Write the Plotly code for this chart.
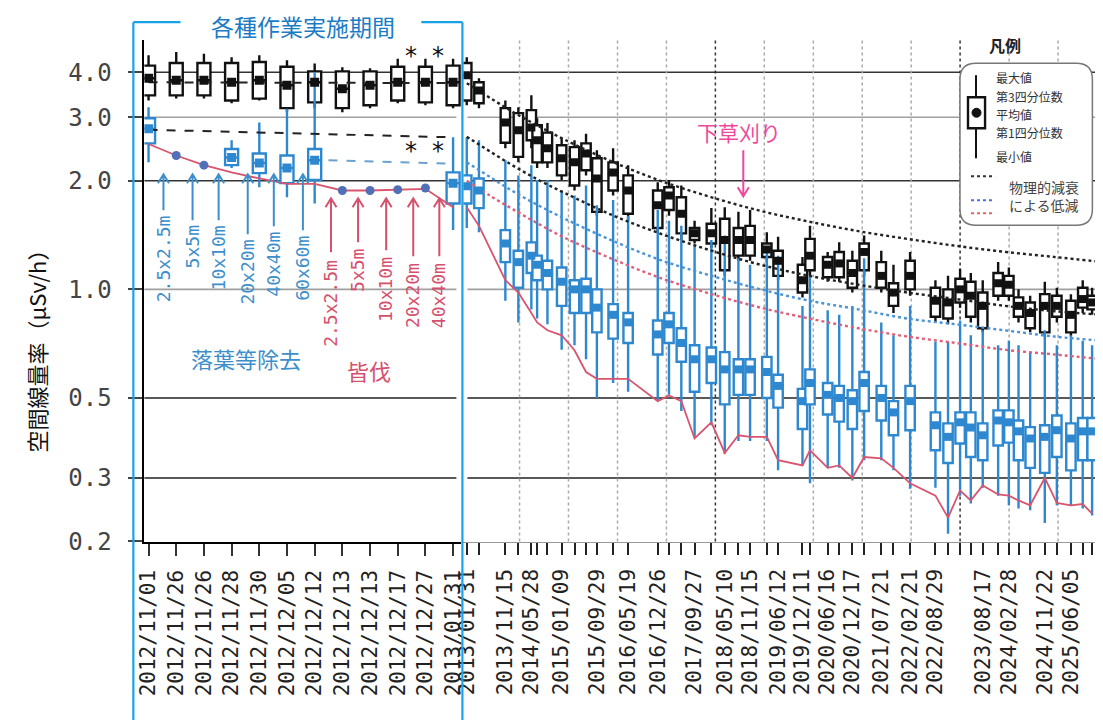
import math
import plotly.graph_objects as go

W, H = 1103, 720
# the rendered page lands slightly offset and scaled; design coordinates below are
# picture pixels and get mapped back to the figure through these factors
SX, AX = 0.986, 17.0
SY, AY = 0.980, 7.8

# ---------------- left panel : 各種作業実施期間 (evenly spaced) ----------------
work_dates = ['2012/11/01', '2012/11/26', '2012/11/26', '2012/11/28', '2012/11/30', '2012/12/05',
              '2012/12/12', '2012/12/13', '2012/12/13', '2012/12/17', '2012/12/27', '2013/01/31']

# black boxes (all 12 days)
blk_w_hi = [4.46, 4.55, 4.50, 4.40, 4.46, 4.32, 4.23, 4.13, 4.10, 4.36, 4.36, 4.36]
blk_w_q3 = [4.17, 4.24, 4.24, 4.24, 4.27, 4.14, 4.02, 4.02, 4.02, 4.14, 4.14, 4.17]
blk_w_mean = [3.85, 3.80, 3.80, 3.75, 3.80, 3.68, 3.75, 3.60, 3.68, 3.75, 3.75, 3.75]
blk_w_q1 = [3.45, 3.45, 3.45, 3.34, 3.38, 3.18, 3.30, 3.18, 3.24, 3.34, 3.30, 3.24]
blk_w_lo = [3.34, 3.38, 3.38, 3.28, 3.34, 3.10, 3.18, 3.10, 3.18, 3.28, 3.24, 3.18]

# blue boxes (only some days)
blu_w_idx = [0, 3, 4, 5, 6, 11]
blu_w_hi = [3.20, 2.59, 2.90, 3.17, 4.00, 2.64]
blu_w_q3 = [2.98, 2.45, 2.38, 2.35, 2.45, 2.11]
blu_w_mean = [2.79, 2.32, 2.24, 2.17, 2.28, 1.97]
blu_w_q1 = [2.54, 2.21, 2.10, 1.97, 2.01, 1.73]
blu_w_lo = [2.25, 2.17, 1.92, 1.80, 1.73, 1.46]

# single measurements
single_idx = [1, 2, 7, 8, 9, 10]
single_val = [2.35, 2.21, 1.88, 1.88, 1.89, 1.91]

red_work = [2.53, 2.35, 2.21, 2.11, 2.03, 1.96, 1.96, 1.88, 1.88, 1.89, 1.90, 1.69]

# dashed reference lines inside the work period
ref_x = [0, 11]
ref_blk_hi = [3.75, 3.73]
ref_blk_lo = [2.77, 2.64]
ref_blu_x = [6.5, 11]
ref_blu = [2.28, 2.23]

# ---------------- right panel : monitoring (date axis) ----------------
site_dates = ['2013-01-31', '2013-05-02', '2013-11-15', '2014-02-20', '2014-05-28', '2014-07-10',
              '2014-09-25', '2015-01-09', '2015-04-15', '2015-07-10', '2015-09-29', '2016-01-28',
              '2016-05-19', '2016-12-26', '2017-03-20', '2017-06-20', '2017-09-27', '2018-01-30',
              '2018-05-10', '2018-08-20', '2018-11-15', '2019-03-20', '2019-06-12', '2019-12-11',
              '2020-02-05', '2020-06-16', '2020-09-10', '2020-12-17', '2021-03-15', '2021-07-21',
              '2021-10-20', '2022-02-21', '2022-08-29', '2022-12-01', '2023-03-01', '2023-05-20',
              '2023-08-17', '2023-12-10', '2024-02-28', '2024-05-10', '2024-08-05', '2024-11-22',
              '2025-02-20', '2025-06-05', '2025-09-01', '2025-11-10']
shown_labels = ['2013/01/31', '2013/11/15', '2014/05/28', '2015/01/09', '2015/09/29', '2016/05/19',
                '2016/12/26', '2017/09/27', '2018/05/10', '2018/11/15', '2019/06/12', '2019/12/11',
                '2020/06/16', '2020/12/17', '2021/07/21', '2022/02/21', '2022/08/29', '2023/08/17',
                '2024/02/28', '2024/11/22', '2025/06/05']

blk_hi = [4.40, 3.85, 3.34, 3.20, 3.45, 2.98, 2.89, 2.62, 2.59, 2.70,
          2.43, 2.46, 2.21, 1.98, 2.01, 1.94, 1.55, 1.68, 1.69, 1.64,
          1.66, 1.44, 1.40, 1.23, 1.50, 1.27, 1.35, 1.28, 1.41, 1.28,
          1.17, 1.27, 1.06, 1.09, 1.14, 1.11, 1.06, 1.19, 1.15, 1.00,
          0.96, 1.05, 1.01, 0.97, 1.06, 1.01]
blk_q3 = [4.24, 3.75, 3.18, 3.08, 3.14, 2.85, 2.72, 2.51, 2.48, 2.54,
          2.31, 2.25, 2.07, 1.88, 1.92, 1.80, 1.48, 1.52, 1.57, 1.48,
          1.50, 1.34, 1.28, 1.17, 1.38, 1.23, 1.27, 1.20, 1.34, 1.19,
          1.04, 1.20, 1.01, 1.00, 1.07, 1.05, 0.98, 1.11, 1.09, 0.95,
          0.92, 0.97, 0.96, 0.93, 1.01, 0.96]
blk_mean = [3.92, 3.56, 2.90, 2.76, 2.81, 2.59, 2.46, 2.31, 2.25, 2.38,
            2.03, 2.11, 1.88, 1.71, 1.82, 1.62, 1.43, 1.43, 1.37, 1.37,
            1.37, 1.29, 1.20, 1.06, 1.24, 1.17, 1.18, 1.11, 1.27, 1.09,
            0.98, 1.09, 0.93, 0.92, 1.00, 0.96, 0.90, 1.04, 1.03, 0.90,
            0.86, 0.90, 0.90, 0.85, 0.94, 0.92]
blk_q1 = [3.34, 3.28, 2.55, 2.33, 2.59, 2.25, 2.25, 2.07, 1.94, 2.14,
          1.64, 1.88, 1.62, 1.48, 1.66, 1.43, 1.37, 1.34, 1.13, 1.24,
          1.24, 1.23, 1.09, 0.98, 1.13, 1.08, 1.08, 1.01, 1.13, 1.01,
          0.90, 1.00, 0.84, 0.83, 0.92, 0.84, 0.78, 0.96, 0.96, 0.84,
          0.78, 0.76, 0.84, 0.76, 0.89, 0.88]
blk_lo = [3.24, 3.18, 2.46, 2.25, 2.46, 2.17, 2.17, 2.01, 1.88, 2.07,
          1.60, 1.82, 1.55, 1.43, 1.60, 1.37, 1.34, 1.30, 1.09, 1.20,
          1.20, 1.19, 1.06, 0.95, 1.09, 1.05, 1.05, 0.98, 1.09, 0.98,
          0.86, 0.96, 0.81, 0.80, 0.89, 0.81, 0.76, 0.93, 0.93, 0.81,
          0.76, 0.74, 0.81, 0.74, 0.86, 0.85]

blu_hi = [2.64, 2.59, 2.28, 2.07, 2.21, 2.01, 2.01, 1.88, 1.82, 1.94,
          1.71, 1.77, 1.60, 1.66, 1.55, 1.50, 1.32, 1.37, 1.41, 1.22,
          1.17, 1.28, 1.24, 0.90, 1.09, 0.875, 0.85, 0.90, 1.22, 0.81,
          0.746, 0.90, 0.717, 0.717, 0.82, 0.746, 0.77, 0.70, 0.72, 0.70,
          0.67, 0.77, 0.70, 0.746, 0.72, 0.70]
blu_q3 = [2.07, 2.03, 1.46, 1.28, 1.35, 1.24, 1.20, 1.15, 1.06, 1.07,
          1.00, 0.91, 0.86, 0.82, 0.86, 0.78, 0.70, 0.69, 0.67, 0.64,
          0.64, 0.65, 0.58, 0.53, 0.60, 0.55, 0.54, 0.525, 0.59, 0.54,
          0.49, 0.54, 0.456, 0.425, 0.456, 0.456, 0.425, 0.462, 0.462, 0.433,
          0.415, 0.42, 0.447, 0.425, 0.44, 0.44]
blu_mean = [1.93, 1.88, 1.34, 1.19, 1.24, 1.17, 1.11, 1.05, 1.00, 1.00,
            0.89, 0.85, 0.81, 0.75, 0.80, 0.71, 0.64, 0.64, 0.60, 0.60,
            0.60, 0.59, 0.54, 0.49, 0.55, 0.51, 0.50, 0.49, 0.55, 0.50,
            0.456, 0.49, 0.42, 0.39, 0.428, 0.414, 0.394, 0.433, 0.428, 0.404,
            0.386, 0.39, 0.407, 0.386, 0.404, 0.404]
blu_q1 = [1.73, 1.68, 1.19, 1.01, 1.11, 1.06, 1.00, 0.90, 0.86, 0.86,
          0.76, 0.73, 0.71, 0.66, 0.71, 0.63, 0.52, 0.55, 0.48, 0.51,
          0.51, 0.50, 0.47, 0.41, 0.48, 0.45, 0.43, 0.41, 0.46, 0.433,
          0.394, 0.407, 0.358, 0.33, 0.374, 0.343, 0.336, 0.369, 0.376, 0.336,
          0.32, 0.31, 0.343, 0.315, 0.336, 0.336]
blu_lo = [1.48, 1.44, 0.93, 0.81, 0.88, 0.83, 0.80, 0.68, 0.70, 0.64,
          0.50, 0.55, 0.52, 0.49, 0.51, 0.46, 0.39, 0.42, 0.35, 0.38,
          0.38, 0.38, 0.315, 0.325, 0.29, 0.32, 0.32, 0.295, 0.336, 0.336,
          0.315, 0.28, 0.282, 0.21, 0.268, 0.255, 0.282, 0.268, 0.252, 0.247,
          0.244, 0.225, 0.252, 0.252, 0.247, 0.236]

red_site = [1.69, 1.50, 1.06, 0.98, 0.86, 0.81, 0.77, 0.746, 0.678, 0.59,
            0.565, 0.565, 0.565, 0.49, 0.508, 0.49, 0.386, 0.428, 0.352, 0.394,
            0.39, 0.39, 0.336, 0.325, 0.358, 0.32, 0.325, 0.30, 0.343, 0.34,
            0.32, 0.29, 0.268, 0.233, 0.277, 0.26, 0.286, 0.27, 0.268, 0.26,
            0.252, 0.30, 0.256, 0.252, 0.254, 0.239]

# physical decay curves (物理的減衰による低減)
decay_dates = ['2013-01-31', '2013-08-01', '2014-02-01', '2014-08-01', '2015-02-01', '2016-02-01',
               '2017-02-01', '2018-02-01', '2019-02-01', '2020-02-01', '2021-02-01', '2022-02-01',
               '2023-02-01', '2024-02-01', '2025-02-01', '2026-02-01']
decay_blk_hi = [3.73, 3.38, 3.07, 2.82, 2.60, 2.25, 1.99, 1.80, 1.65, 1.54, 1.45, 1.38, 1.32, 1.27, 1.23, 1.19]
decay_blk_lo = [2.65, 2.40, 2.18, 2.00, 1.85, 1.60, 1.42, 1.28, 1.17, 1.09, 1.03, 0.98, 0.94, 0.90, 0.87, 0.85]
decay_blu = [2.25, 2.04, 1.85, 1.70, 1.57, 1.36, 1.20, 1.09, 1.00, 0.93, 0.88, 0.83, 0.80, 0.77, 0.74, 0.72]
decay_red = [2.00, 1.81, 1.65, 1.51, 1.39, 1.21, 1.07, 0.97, 0.89, 0.83, 0.78, 0.74, 0.71, 0.68, 0.66, 0.64]

y_ticks = [4.0, 3.0, 2.0, 1.0, 0.5, 0.3, 0.2]
y_ticktext = ['4.0', '3.0', '2.0', '1.0', '0.5', '0.3', '0.2']

BLACK = '#111111'
BLUE = '#2e88cf'
RED = '#d9546e'
JP = 'Noto Sans CJK JP'
MONO = 'DejaVu Sans Mono'


def px(x):  # picture pixel -> paper
    return (x - AX) / SX / W


def py(y):
    return 1 - (y - AY) / SY / H


def box(x, lo, q1, mid, q3, hi, color, width, xaxis):
    return go.Box(x=x, lowerfence=lo, q1=q1, median=mid, q3=q3, upperfence=hi,
                  xaxis=xaxis, yaxis='y', width=width, whiskerwidth=0, boxpoints=False,
                  fillcolor='white', line=dict(color=color, width=2.4), hoverinfo='skip')


data = []
# left panel reference lines
data.append(go.Scatter(x=ref_x, y=ref_blk_hi, mode='lines', xaxis='x', yaxis='y',
                       line=dict(color='#222', width=2, dash='dash')))
data.append(go.Scatter(x=ref_x, y=ref_blk_lo, mode='lines', xaxis='x', yaxis='y',
                       line=dict(color='#222', width=2, dash='dash')))
data.append(go.Scatter(x=ref_blu_x, y=ref_blu, mode='lines', xaxis='x', yaxis='y',
                       line=dict(color='#6aa3d2', width=2, dash='dash')))
# right panel decay curves
for vals, col in [(decay_blk_hi, '#222'), (decay_blk_lo, '#222'), (decay_blu, '#4a93d6'), (decay_red, '#e0607a')]:
    data.append(go.Scatter(x=decay_dates, y=vals, mode='lines', xaxis='x2', yaxis='y',
                           line=dict(color=col, width=2.4, dash='dot', shape='spline')))

# black boxes
idx12 = list(range(12))
data.append(box(idx12, blk_w_lo, blk_w_q1, blk_w_mean, blk_w_q3, blk_w_hi, BLACK, 0.47, 'x'))
data.append(go.Scatter(x=idx12, y=blk_w_mean, mode='markers', xaxis='x', yaxis='y',
                       marker=dict(symbol='square', size=9, color=BLACK)))
day_w = 70 * 86400000
data.append(box(site_dates, blk_lo, blk_q1, blk_mean, blk_q3, blk_hi, BLACK, day_w, 'x2'))
data.append(go.Scatter(x=site_dates, y=blk_mean, mode='markers', xaxis='x2', yaxis='y',
                       marker=dict(symbol='square', size=8, color=BLACK)))

# blue boxes
data.append(box(blu_w_idx, blu_w_lo, blu_w_q1, blu_w_mean, blu_w_q3, blu_w_hi, BLUE, 0.47, 'x'))
data.append(go.Scatter(x=blu_w_idx, y=blu_w_mean, mode='markers', xaxis='x', yaxis='y',
                       marker=dict(symbol='square', size=9, color=BLUE)))
data.append(box(site_dates, blu_lo, blu_q1, blu_mean, blu_q3, blu_hi, BLUE, day_w, 'x2'))
data.append(go.Scatter(x=site_dates, y=blu_mean, mode='markers', xaxis='x2', yaxis='y',
                       marker=dict(symbol='square', size=8, color=BLUE)))

# red lines
data.append(go.Scatter(x=idx12, y=red_work, mode='lines', xaxis='x', yaxis='y',
                       line=dict(color=RED, width=1.8)))
data.append(go.Scatter(x=site_dates, y=red_site, mode='lines', xaxis='x2', yaxis='y',
                       line=dict(color=RED, width=1.8)))
data.append(go.Scatter(x=single_idx, y=single_val, mode='markers', xaxis='x', yaxis='y',
                       marker=dict(symbol='circle', size=9, color='#5270b8')))

# ---------------- shapes ----------------
shapes = []
grid = [(4.0, '#333'), (3.0, '#a0a0a0'), (2.0, '#333'), (1.0, '#a0a0a0'), (0.5, '#222'), (0.3, '#222')]
for val, col in grid:
    for x0, x1 in [(144, 455), (466, 1103)]:
        shapes.append(dict(type='line', xref='paper', yref='y', x0=px(x0), x1=min(px(x1), 1.0), y0=val, y1=val,
                           line=dict(color=col, width=1.6), layer='below'))
for yr in range(2014, 2026):
    col = '#333' if yr in (2018, 2023) else '#aaaaaa'
    shapes.append(dict(type='line', xref='x2', yref='paper', x0=f'{yr}-03-01', x1=f'{yr}-03-01',
                       y0=py(541), y1=py(40), line=dict(color=col, width=1.5, dash='dot'), layer='below'))

# 各種作業実施期間 bracket
CYAN = '#19a3e6'
for seg in [(133, 22, 133, 725), (461, 22, 461, 725), (133, 22, 180, 22), (420, 22, 461, 22)]:
    shapes.append(dict(type='line', xref='paper', yref='paper', x0=px(seg[0]), y0=py(seg[1]),
                       x1=px(seg[2]), y1=py(seg[3]), line=dict(color=CYAN, width=2.2), layer='above'))


def arrow(x, y_head, y_tail, color):
    d = 9 if y_tail > y_head else -9
    path = (f'M{px(x)},{py(y_tail)} L{px(x)},{py(y_head)} '
            f'M{px(x - 5.5)},{py(y_head + d)} L{px(x)},{py(y_head)} L{px(x + 5.5)},{py(y_head + d)}')
    return dict(type='path', xref='paper', yref='paper', path=path,
                line=dict(color=color, width=2), layer='above')


def rounded(x0, y0, x1, y1, r):
    pts = [('M', x0 + r, y0), ('L', x1 - r, y0), ('Q', x1, y0, x1, y0 + r), ('L', x1, y1 - r),
           ('Q', x1, y1, x1 - r, y1), ('L', x0 + r, y1), ('Q', x0, y1, x0, y1 - r),
           ('L', x0, y0 + r), ('Q', x0, y0, x0 + r, y0)]
    out = []
    for p in pts:
        cmd, coords = p[0], p[1:]
        xy = ' '.join(f'{px(coords[i])},{py(coords[i + 1])}' for i in range(0, len(coords), 2))
        out.append(f'{cmd}{xy}')
    return ' '.join(out) + ' Z'


# legend
shapes.append(dict(type='path', xref='paper', yref='paper', path=rounded(957, 63, 1089, 225, 16),
                   fillcolor='white', line=dict(color='#777', width=1.5), layer='above'))
shapes.append(dict(type='line', xref='paper', yref='paper', x0=px(973), x1=px(973), y0=py(75), y1=py(158),
                   line=dict(color=BLACK, width=2), layer='above'))
shapes.append(dict(type='rect', xref='paper', yref='paper', x0=px(965), x1=px(982), y0=py(97), y1=py(128),
                   fillcolor='white', line=dict(color=BLACK, width=2.4), layer='above'))
shapes.append(dict(type='circle', xref='paper', yref='paper', x0=px(969), x1=px(978), y0=py(108), y1=py(117),
                   fillcolor=BLACK, line=dict(color=BLACK, width=1), layer='above'))
for yy, col in [(176, '#333'), (200, '#4b6ee8'), (213, '#e8606a')]:
    shapes.append(dict(type='line', xref='paper', yref='paper', x0=px(968), x1=px(992), y0=py(yy), y1=py(yy),
                       line=dict(color=col, width=2, dash='dot'), layer='above'))

# work arrows
blue_arrow_x = [163, 192, 218, 247, 273, 302]
blue_label_top = [214, 224, 224, 238, 230, 234]
blue_labels = ['2.5x2.5m', '5x5m', '10x10m', '20x20m', '40x40m', '60x60m']
red_arrow_x = [330, 357, 385, 412, 438]
red_label_top = [258, 248, 256, 262, 262]
red_labels = ['2.5x2.5m', '5x5m', '10x10m', '20x20m', '40x40m']
LBLUE = '#3d8fcb'
LRED = '#d5506c'
for x, t in zip(blue_arrow_x, blue_label_top):
    shapes.append(arrow(x, 174, t - 4, LBLUE))
for x, t in zip(red_arrow_x, red_label_top):
    shapes.append(arrow(x, 198, t - 6, LRED))
shapes.append(arrow(741, 196, 150, '#ee4a9c'))

# ---------------- annotations ----------------
ann = []


def note(text, x, y, size, color, family=JP, xanchor='center', yanchor='middle', angle=0):
    ann.append(dict(text=text, x=px(x), y=py(y), xref='paper', yref='paper', showarrow=False,
                    xanchor=xanchor, yanchor=yanchor, textangle=angle, borderpad=0,
                    font=dict(family=family, size=size, color=color)))


note('各種作業実施期間', 302, 26, 23, '#1a7cc4')
note('空間線量率（μSv/h）', 36, 345, 22, '#111', angle=-90)
note('<b>凡例</b>', 1002, 45, 16, '#222')
for txt, yy in [('最大値', 77), ('第3四分位数', 96), ('平均値', 114), ('第1四分位数', 132), ('最小値', 156)]:
    note(txt, 992, yy, 12, '#333', xanchor='left')
note('物理的減衰', 1041, 187, 14, '#444')
note('による低減', 1041, 205, 14, '#444')
for x, t, lab in zip(blue_arrow_x, blue_label_top, blue_labels):
    note(lab, x, t, 18, LBLUE, family=MONO, yanchor='top', angle=-90)
for x, t, lab in zip(red_arrow_x, red_label_top, red_labels):
    note(lab, x, t, 18, LRED, family=MONO, yanchor='top', angle=-90)
note('落葉等除去', 245, 358, 22, LBLUE)
note('皆伐', 368, 370, 22, LRED)
note('下草刈り', 737, 132, 21, '#ee4a9c')
for x, y in [(410, 56), (437, 56), (410, 151), (437, 151)]:
    note('*', x, y, 24, '#111', family='DejaVu Sans')

label_set = set(shown_labels)
site_ticktext = [d.replace('-', '/') if d.replace('-', '/') in label_set else '' for d in site_dates]

tickfont = dict(family=MONO, size=21, color='#222')
layout = go.Layout(
    width=W, height=H, margin=dict(l=0, r=0, t=0, b=0),
    paper_bgcolor='white', plot_bgcolor='white', showlegend=False, boxmode='overlay',
    xaxis=dict(domain=[px(144), px(460)], range=[-0.15, 11.3], anchor='y',
               tickmode='array', tickvals=idx12, ticktext=work_dates, tickangle=-90,
               ticks='outside', ticklen=12, tickwidth=2, tickcolor='#333', ticklabelstandoff=6,
               showline=True, linecolor='black', linewidth=2, showgrid=False, zeroline=False,
               tickfont=tickfont),
    xaxis2=dict(domain=[px(462), min(px(1103), 1.0)], type='date', range=['2013-01-06', '2026-02-25'],
                anchor='y', tickmode='array', tickvals=site_dates, ticktext=site_ticktext, tickangle=-90,
                ticks='outside', ticklen=12, tickwidth=1.8, tickcolor='#222', ticklabelstandoff=6,
                showline=True, linecolor='#999', linewidth=1, showgrid=False, zeroline=False,
                tickfont=tickfont),
    yaxis=dict(type='log', range=[math.log10(0.2), 0.6907], domain=[py(541), py(40)], anchor='x',
               tickmode='array', tickvals=y_ticks, ticktext=y_ticktext,
               ticks='outside', ticklen=14, tickwidth=1.5, tickcolor='#444', ticklabelstandoff=12,
               showline=True, linecolor='black', linewidth=2, showgrid=False, zeroline=False,
               tickfont=dict(family=MONO, size=24, color='#444')),
    shapes=shapes, annotations=ann,
)

fig = go.Figure(data=data, layout=layout)
fig.write_html('out.html')
